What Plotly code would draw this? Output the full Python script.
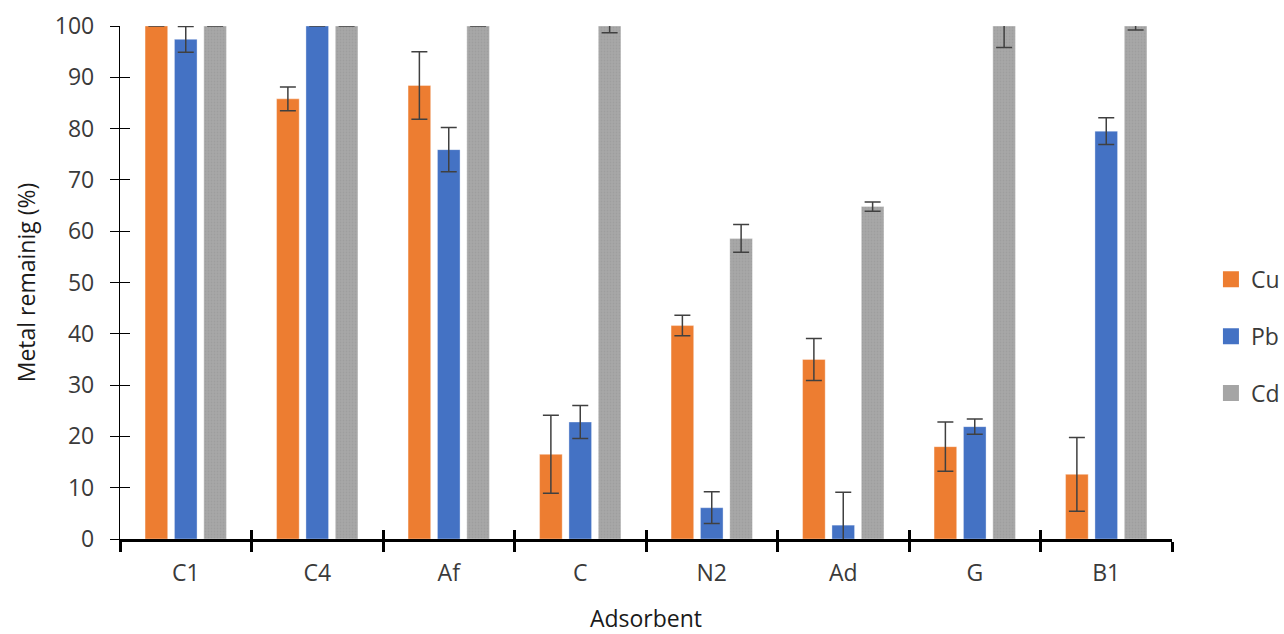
import plotly.graph_objects as go

# Adsorbents on the x axis
adsorbents = ["C1", "C4", "Af", "C", "N2", "Ad", "G", "B1"]

# Metal remaining (%) per metal, with standard deviations (None = no bar shown)
cu_values = [100, 85.8, 88.4, 16.5, 41.6, 35.0, 18.0, 12.6]
cu_errors = [None, 2.3, 6.6, 7.6, 2.0, 4.1, 4.8, 7.2]

pb_values = [97.4, 100, 75.9, 22.8, 6.1, 2.7, 21.9, 79.5]
pb_errors = [2.5, None, 4.3, 3.2, 3.1, 6.4, 1.5, 2.6]

cd_values = [100, 100, 100, 100, 58.6, 64.8, 100, 100]
cd_errors = [None, None, None, 1.3, 2.7, 0.9, 4.2, 0.8]

metals = ["Cu", "Pb", "Cd"]
colors = ["#ED7D31", "#4472C4", "#A5A5A5"]

y_ticks = list(range(0, 101, 10))

FONT = "Open Sans, Segoe UI, DejaVu Sans, sans-serif"
TEXT = "#3a3a3a"
ERR = "#404040"
EDGE = dict(color="rgba(255,255,255,0.35)", width=1)


def err(arr):
    return dict(type="data", array=arr, visible=True, color=ERR,
                thickness=1.5, width=8)


fig = go.Figure()
fig.add_trace(go.Bar(
    name="Cu", x=adsorbents, y=cu_values, error_y=err(cu_errors),
    marker=dict(color=colors[0], line=EDGE), showlegend=False,
))
fig.add_trace(go.Bar(
    name="Pb", x=adsorbents, y=pb_values, error_y=err(pb_errors),
    marker=dict(color=colors[1], line=EDGE), showlegend=False,
))
fig.add_trace(go.Bar(
    name="Cd", x=adsorbents, y=cd_values, error_y=err(cd_errors),
    marker=dict(color=colors[2], line=EDGE,
                pattern=dict(shape=".", fgcolor="#939393", bgcolor="#A8A8A8",
                             size=3, solidity=0.35)),
    showlegend=False,
))

# Legend entries with larger square swatches
for metal, col in zip(metals, colors):
    fig.add_trace(go.Scatter(
        x=[None], y=[None], mode="markers", name=metal, legendgroup=metal,
        marker=dict(symbol="square", size=17, color=col),
    ))

# Invisible helper trace on overlay axes: gives the inner half of the crossing ticks
fig.add_trace(go.Scatter(
    x=[-0.5, len(adsorbents) - 0.5], y=[0, 100], xaxis="x2", yaxis="y2",
    mode="markers", marker=dict(opacity=0), showlegend=False, hoverinfo="skip",
))

fig.update_layout(
    width=1284, height=634,
    margin=dict(l=120, r=112, t=26, b=95),
    paper_bgcolor="white", plot_bgcolor="white",
    font=dict(family=FONT, size=23, color=TEXT),
    barmode="group", bargap=0.33, bargroupgap=0.23,
    showlegend=True,
    legend=dict(xref="container", x=0.9431, xanchor="left",
                y=0.395, yanchor="middle",
                font=dict(size=23, color=TEXT), tracegroupgap=24,
                itemsizing="trace", bgcolor="rgba(0,0,0,0)"),
    xaxis=dict(
        type="category", tickson="boundaries", ticks="outside", ticklen=10,
        tickwidth=2.5, tickcolor="black", showline=True, linewidth=2.5,
        linecolor="black", showgrid=False, zeroline=False, automargin=False,
        tickfont=dict(size=23, color=TEXT), ticklabelstandoff=12,
        title=dict(text="Adsorbent", font=dict(size=23, color="#1a1a1a"), standoff=32),
        range=[-0.5, len(adsorbents) - 0.5],
    ),
    yaxis=dict(
        range=[0, 100], tickvals=y_ticks, ticks="outside", ticklen=9,
        tickwidth=1.3, tickcolor="black", showline=True, linewidth=1.3,
        linecolor="black", showgrid=False, zeroline=False, automargin=False,
        tickfont=dict(size=23, color=TEXT), ticklabelstandoff=11,
        title=dict(text="Metal remainig (%)", font=dict(size=23, color="#1a1a1a"),
                   standoff=12),
    ),
    xaxis2=dict(
        overlaying="x", anchor="y2", range=[-0.5, len(adsorbents) - 0.5],
        tickvals=[i - 0.5 for i in range(len(adsorbents) + 1)],
        ticks="inside", ticklen=9, tickwidth=2.5, tickcolor="black",
        showticklabels=False, showgrid=False, zeroline=False, showline=False,
        automargin=False,
    ),
    yaxis2=dict(
        overlaying="y", anchor="x2", range=[0, 100], tickvals=y_ticks,
        ticks="inside", ticklen=10, tickwidth=1.3, tickcolor="black",
        showticklabels=False, showgrid=False, zeroline=False, showline=False,
        automargin=False,
    ),
)

fig.write_html("out.html")
